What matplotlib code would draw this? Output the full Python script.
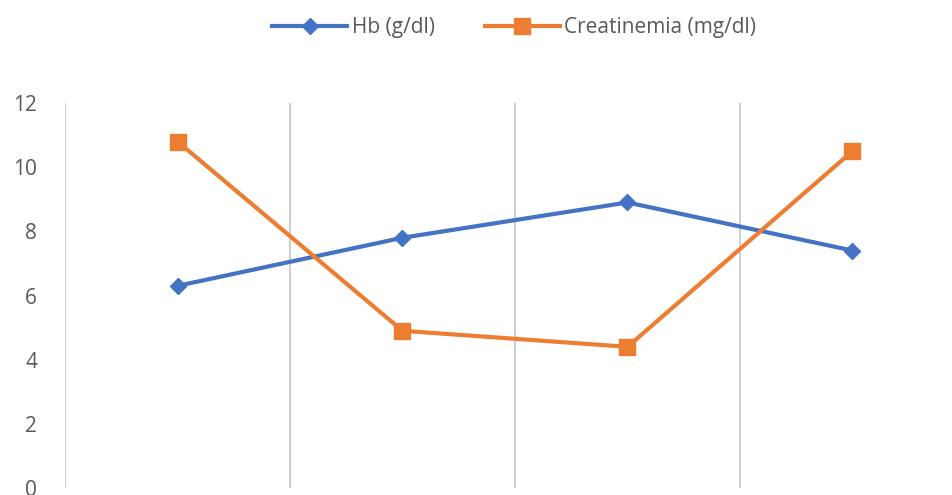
import matplotlib.pyplot as plt
import numpy as np

# values
hb = [6.3, 7.8, 8.9, 7.4]
creat = [10.8, 4.9, 4.4, 10.5]
yticks = [0, 2, 4, 6, 8, 10, 12]

plt.rcParams['font.family'] = ['Open Sans', 'DejaVu Sans']

fig = plt.figure(figsize=(9.53, 4.95), dpi=100)
ax = fig.add_axes([65/953, 7/495, 900/953, 385/495])

x = np.arange(len(hb)) + 0.5
ax.plot(x, hb, color='#4472C4', lw=3, marker='D', ms=8, label='Hb (g/dl)', zorder=3)
ax.plot(x, creat, color='#ED7D31', lw=3, marker='s', ms=12, label='Creatinemia (mg/dl)', zorder=3)

ax.set_xlim(0, 4)
ax.set_ylim(0, 12)
ax.set_yticks(yticks)
ax.set_xticks([0, 1, 2, 3, 4])
ax.set_xticklabels([])
ax.grid(axis='x', color='#D0D0D0', lw=1.5)
ax.tick_params(axis='y', length=0, pad=20, labelsize=15, labelcolor='#595959')
ax.tick_params(axis='x', length=0)
for s in ax.spines.values():
    s.set_visible(False)

fig.legend(loc='center', bbox_to_anchor=(514/953, 1 - 28/495), ncol=2, frameon=False,
           fontsize=15, labelcolor='#595959', handlelength=3.6, handletextpad=0.2,
           columnspacing=2.4)

fig.savefig('out.png', dpi=100)
